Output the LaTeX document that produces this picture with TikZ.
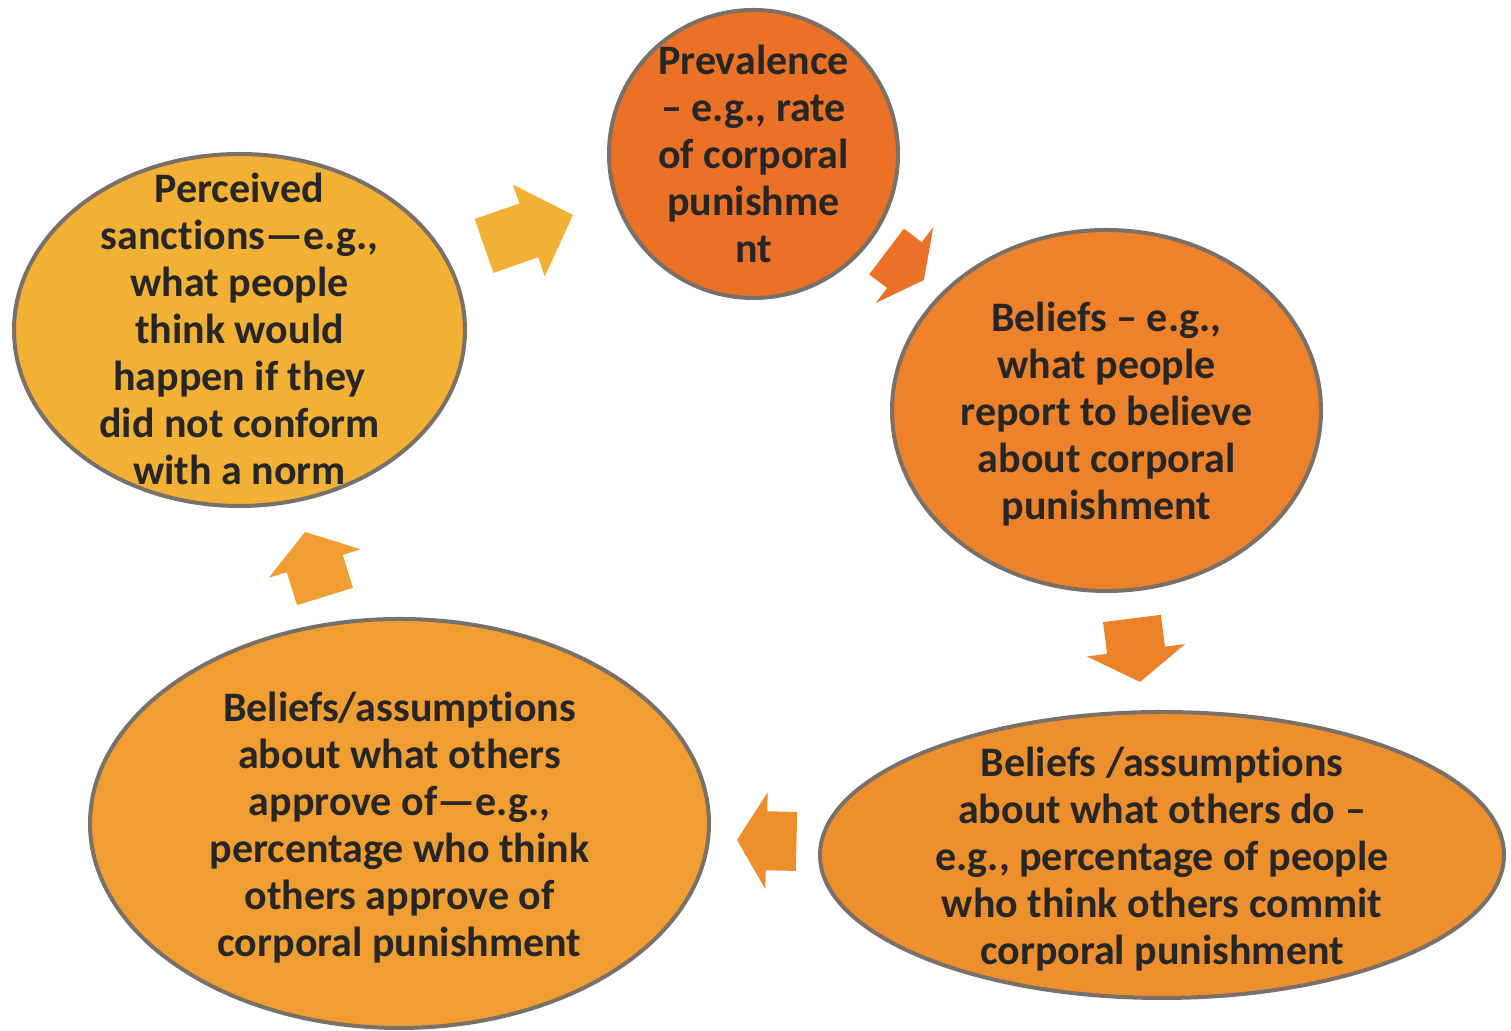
\documentclass[tikz,border=0pt]{standalone}
\usepackage{fontspec}
\setmainfont[Ligatures={NoCommon}]{Carlito}
\usepackage{xcolor}
\definecolor{prevorange}{RGB}{234,113,37}
\definecolor{belieforange}{RGB}{237,130,42}
\definecolor{doorange}{RGB}{238,143,46}
\definecolor{approveorange}{RGB}{240,158,50}
\definecolor{sanctionyellow}{RGB}{242,176,52}
\definecolor{edgegray}{RGB}{122,112,104}
\definecolor{txtgray}{RGB}{38,38,38}
\usetikzlibrary{shapes.geometric}
\newcommand{\blockarrow}[7]{%
  \fill[#7, shift={#1}, rotate=#2]
    (-#3/2,-#4) -- (#3/2-#6,-#4) -- (#3/2-#6,-#5) -- (#3/2,0)
    -- (#3/2-#6,#5) -- (#3/2-#6,#4) -- (-#3/2,#4) -- cycle;}
\tikzset{
  bubble/.style={ellipse, draw=edgegray, line width=2pt, inner sep=0pt},
  txt/.style={font=\fontsize{21}{23.5}\selectfont\bfseries, text=txtgray, align=center, inner sep=0pt}
}

\begin{document}
\begin{tikzpicture}[x=0.5pt, y=0.5pt]
    \useasboundingbox (0,0) rectangle (1511,1031);
    \node[bubble, fill=prevorange, minimum width=144.5pt, minimum height=144pt] (prev) at (753.5,877) {};
    \node[bubble, fill=belieforange, minimum width=214.5pt, minimum height=180.5pt] (belief) at (1106.5,620.5) {};
    \node[bubble, fill=doorange, minimum width=342pt, minimum height=143pt] (doing) at (1162,176) {};
    \node[bubble, fill=approveorange, minimum width=309.5pt, minimum height=204.5pt] (approve) at (399.5,207.5) {};
    \node[bubble, fill=sanctionyellow, minimum width=225.5pt, minimum height=176pt] (sanction) at (239.5,701) {};
    \node[txt] (prevtext) at (prev) {Prevalence\\– e.g., rate\\of corporal\\punishme\\nt};
    \node[txt, yshift=-2pt] (belieftext) at (belief) {Beliefs – e.g.,\\what people\\report to believe\\about corporal\\punishment};
    \node[txt, yshift=-2pt] (doingtext) at (doing) {Beliefs /assumptions\\about what others do –\\e.g., percentage of people\\who think others commit\\corporal punishment};
    \node[txt, yshift=-2pt] (approvetext) at (approve) {Beliefs/assumptions\\about what others\\approve of—e.g.,\\percentage who think\\others approve of\\corporal punishment};
    \node[txt, yshift=0.5pt] (sanctiontext) at (sanction) {Perceived\\sanctions—e.g.,\\what people\\think would\\happen if they\\did not conform\\with a norm};
    \blockarrow{(528.5,800.5)}{19.2}{94.2}{28.5}{48.7}{46.8}{sanctionyellow}
    \blockarrow{(905.25,765.25)}{-37.2}{47}{28.7}{47.6}{24.5}{prevorange}
    \blockarrow{(1136,380.75)}{-82.8}{64}{29.2}{49.5}{32}{belieforange}
    \blockarrow{(766.75,190.25)}{178.6}{59.5}{29.5}{48.5}{29.5}{doorange}
    \blockarrow{(315,466.75)}{107.2}{67.5}{29.3}{48.2}{33}{approveorange}
\end{tikzpicture}
\end{document}
